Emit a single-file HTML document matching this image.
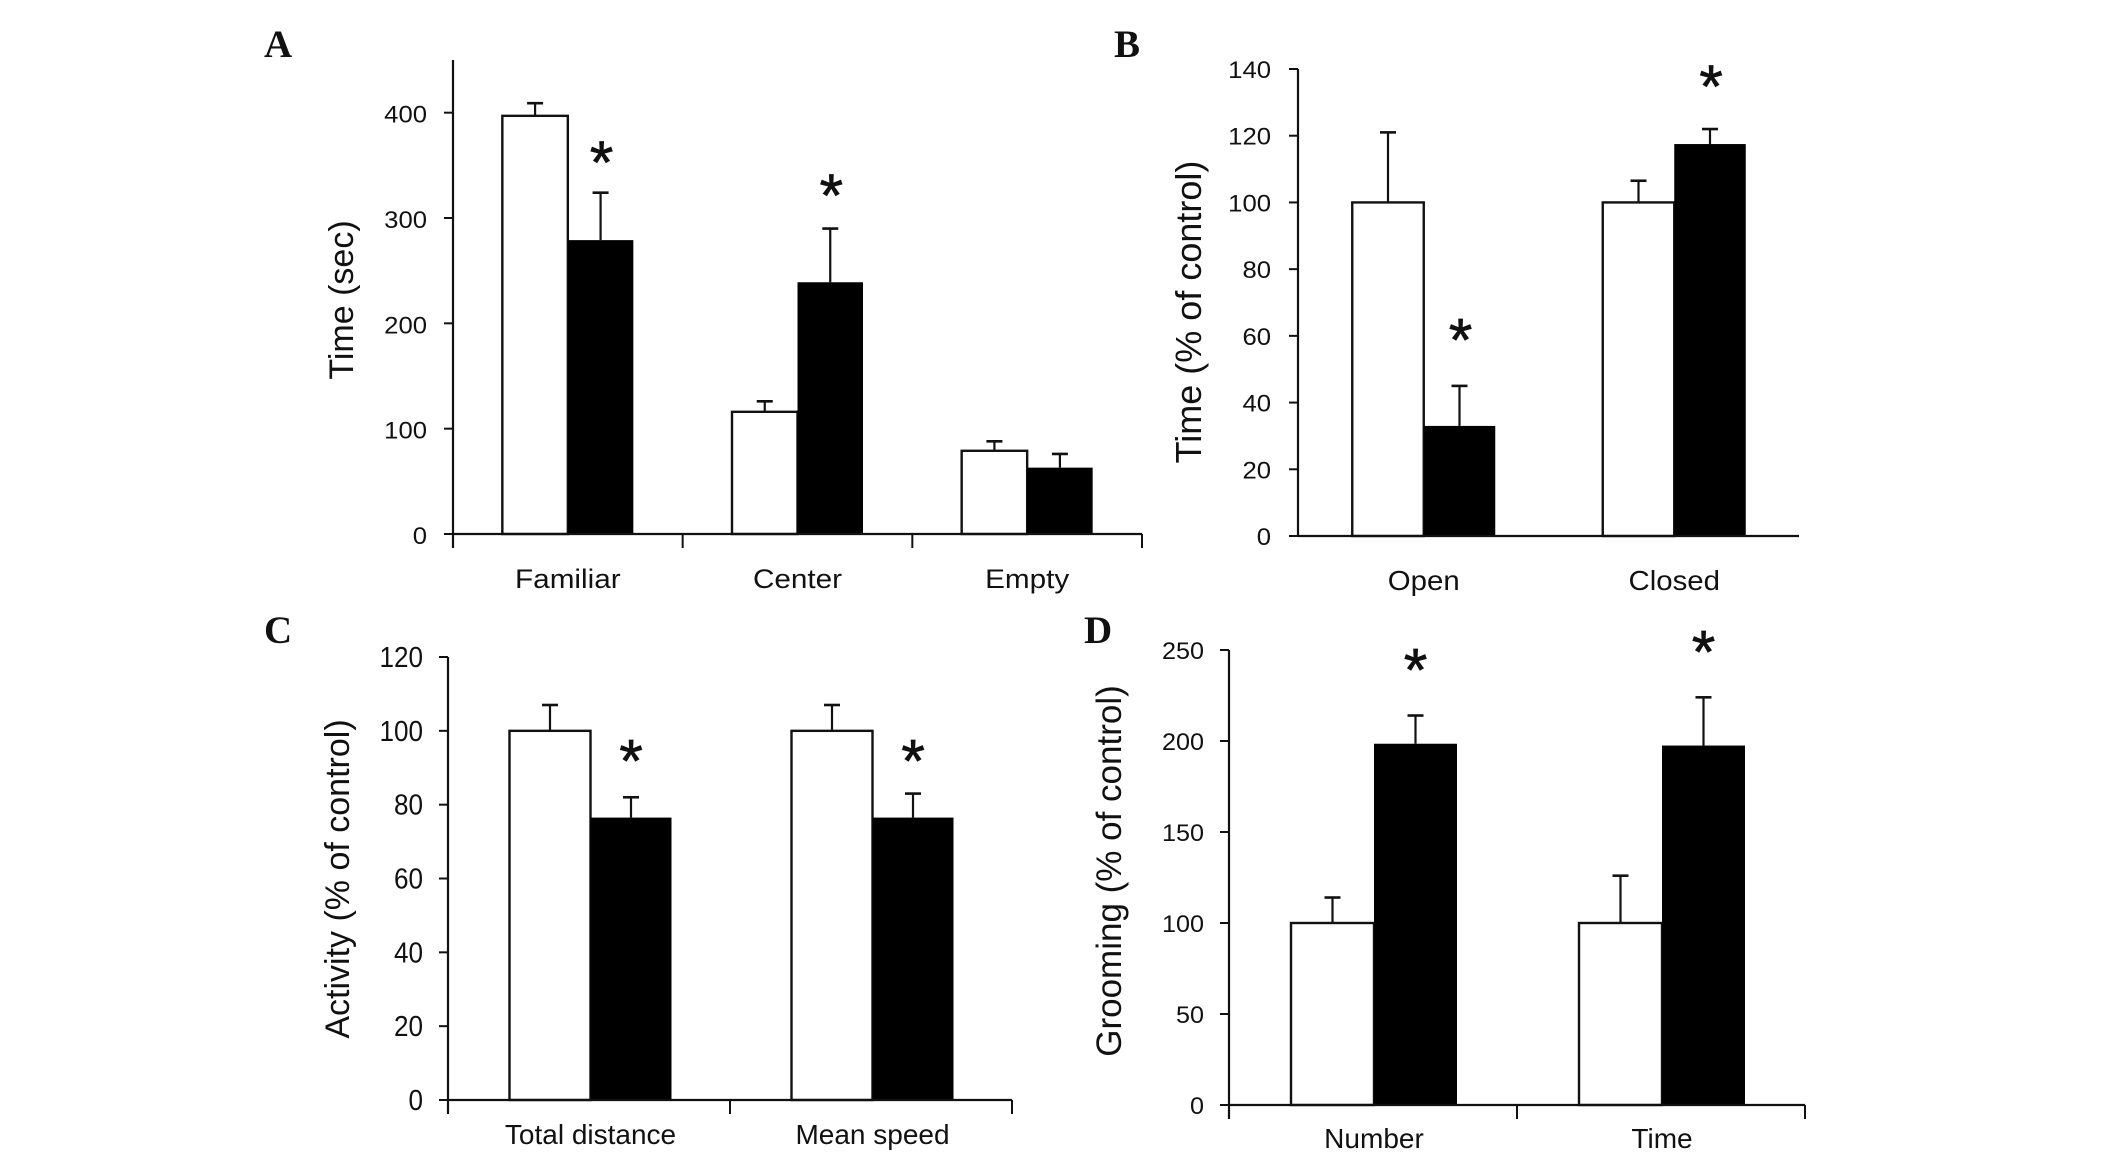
<!DOCTYPE html>
<html lang="en">
<head>
<meta charset="utf-8">
<title>Behavioural bar charts</title>
<style>
html,body{margin:0;padding:0;background:#fff;}
svg{display:block;}
</style>
</head>
<body>
<svg id="figure" xmlns="http://www.w3.org/2000/svg" width="2126" height="1160" viewBox="0 0 2126 1160"></svg>
<script>
/* Panel A data */
const aCategories = ["Familiar", "Center", "Empty"];
const aControl = [397, 116, 79];
const aTreated = [279, 239, 63];
const aControlErrTop = [409, 126, 88];
const aTreatedErrTop = [324, 290, 76];
const aStarLevels = [360, 328.5, null];
const aTicks = [0, 100, 200, 300, 400];

/* Panel B data */
const bCategories = ["Open", "Closed"];
const bControl = [100, 100];
const bTreated = [33, 117.5];
const bControlErrTop = [121, 106.5];
const bTreatedErrTop = [45, 122];
const bStarLevels = [61, 137];
const bTicks = [0, 20, 40, 60, 80, 100, 120, 140];

/* Panel C data */
const cCategories = ["Total distance", "Mean speed"];
const cControl = [100, 100];
const cTreated = [76.5, 76.5];
const cControlErrTop = [107, 107];
const cTreatedErrTop = [82, 83];
const cStarLevels = [93.8, 93.8];
const cTicks = [0, 20, 40, 60, 80, 100, 120];

/* Panel D data */
const dCategories = ["Number", "Time"];
const dControl = [100, 100];
const dTreated = [198.5, 197.5];
const dControlErrTop = [114, 126];
const dTreatedErrTop = [214, 224];
const dStarLevels = [243, 253];
const dTicks = [0, 50, 100, 150, 200, 250];

const NS = "http://www.w3.org/2000/svg";
const figure = document.getElementById("figure");
const INK = "#111";

function svgEl(parent, tag) {
  const el = document.createElementNS(NS, tag);
  parent.appendChild(el);
  return el;
}
function setLine(el, x1, y1, x2, y2, w) {
  el.setAttribute("x1", x1);
  el.setAttribute("y1", y1);
  el.setAttribute("x2", x2);
  el.setAttribute("y2", y2);
  el.setAttribute("stroke", INK);
  el.setAttribute("stroke-width", w);
}
function setText(el, str, size, family, anchor, transform) {
  el.textContent = str;
  el.setAttribute("font-size", size);
  el.setAttribute("font-family", family);
  el.setAttribute("text-anchor", anchor);
  el.setAttribute("fill", INK);
  el.setAttribute("transform", transform);
}

const SANS = '"Liberation Sans", sans-serif';
const SERIF = '"Liberation Serif", serif';

function drawPanel(p) {
  const g = svgEl(figure, "g");
  
  

  const y = v => p.y0 - (v / p.yMax) * (p.y0 - p.yTop);
  const band = (p.x1 - p.x0) / p.categories.length;
  const center = i => p.x0 + p.barShift + band * (i + 0.5);

  /* panel letter */
  const letter = svgEl(g, "text");
  setText(letter, p.id.toUpperCase(), 39, SERIF, "start", `translate(${p.letterX},${p.letterY})`);
  letter.setAttribute("font-weight", "bold");
  
  

  /* y title */
  const title = svgEl(g, "text");
  setText(title, p.title, p.titleSize, SANS, "middle", `translate(${p.titleX},${p.titleY}) rotate(-90)`);
  
  

  /* bars */
  p.categories.forEach((cat, i) => {
    const c = center(i);
    const errCapW = 16;

    const ctrlX = (c - p.barW / 2);
    const errA = svgEl(g, "line");
    setLine(errA, ctrlX, y(p.control[i]), ctrlX, y(p.controlErr[i]), 2.2);
    
    
    const capA = svgEl(g, "line");
    setLine(capA, ctrlX - errCapW / 2, y(p.controlErr[i]), ctrlX + errCapW / 2, y(p.controlErr[i]), 2.6);
    
    

    const trtX = (c + p.barW / 2);
    const errB = svgEl(g, "line");
    setLine(errB, trtX, y(p.treated[i]), trtX, y(p.treatedErr[i]), 2.2);
    
    
    const capB = svgEl(g, "line");
    setLine(capB, trtX - errCapW / 2, y(p.treatedErr[i]), trtX + errCapW / 2, y(p.treatedErr[i]), 2.6);
    
    

    const whiteBar = svgEl(g, "rect");
    whiteBar.setAttribute("x", c - p.barW);
    whiteBar.setAttribute("y", y(p.control[i]));
    whiteBar.setAttribute("width", p.barW);
    whiteBar.setAttribute("height", p.y0 - y(p.control[i]));
    whiteBar.setAttribute("fill", "#fff");
    whiteBar.setAttribute("stroke", INK);
    whiteBar.setAttribute("stroke-width", 2.4);
    
    

    const blackBar = svgEl(g, "rect");
    blackBar.setAttribute("x", c);
    blackBar.setAttribute("y", y(p.treated[i]));
    blackBar.setAttribute("width", p.barW);
    blackBar.setAttribute("height", p.y0 - y(p.treated[i]));
    blackBar.setAttribute("fill", "#000");
    
    

    /* significance star */
    if (p.stars[i] !== null) {
      const star = svgEl(g, "text");
      setText(star, "*", 60, SANS, "middle", `translate(${trtX + p.starDx},${y(p.stars[i]) + 28})`);
      star.setAttribute("stroke", INK);
      star.setAttribute("stroke-width", 0.8);
      
      
    }

    /* category label */
    const label = svgEl(g, "text");
    setText(label, cat, p.catSize, SANS, "middle", `translate(${c},${p.catY}) scale(${p.catSx},1)`);
    
    

    /* x tick marks */
    if (p.xTicks) {
      const tk = svgEl(g, "line");
      setLine(tk, p.x0 + band * (i + 1), p.y0, p.x0 + band * (i + 1), p.y0 + 14, 2);
      
      
    }
  });

  /* axes */
  const xAxis = svgEl(g, "line");
  setLine(xAxis, p.x0, p.y0, p.x1, p.y0, 2.2);
  
  

  const yAxis = svgEl(g, "line");
  setLine(yAxis, p.x0, p.yTop, p.x0, p.y0 + (p.xTicks ? 14 : 0), 2.2);
  
  

  /* y ticks */
  p.ticks.forEach(t => {
    const tk = svgEl(g, "line");
    setLine(tk, p.x0 - 9, y(t), p.x0, y(t), 2);
    
    

    const lab = svgEl(g, "text");
    setText(lab, String(t), p.tickSize, SANS, "end", `translate(${p.tickX},${y(t) + p.tickDy}) scale(${p.tickSx},1)`);
    
    
  });
}

drawPanel({
  id: "a", categories: aCategories, control: aControl, treated: aTreated,
  controlErr: aControlErrTop, treatedErr: aTreatedErrTop, stars: aStarLevels, ticks: aTicks,
  x0: 453, x1: 1142, yTop: 60, y0: 534, yMax: 450, barW: 65.5, xTicks: true, barShift: 0,
  title: "Time (sec)", titleSize: 34, titleX: 353, titleY: 300,
  letterX: 264, letterY: 57, tickSize: 24, tickSx: 1.07, tickX: 427, tickDy: 10,
  catSize: 27, catSx: 1.1, catY: 588, starDx: 1
});
drawPanel({
  id: "b", categories: bCategories, control: bControl, treated: bTreated,
  controlErr: bControlErrTop, treatedErr: bTreatedErrTop, stars: bStarLevels, ticks: bTicks,
  x0: 1298, x1: 1799, yTop: 69, y0: 536, yMax: 140, barW: 71.5, xTicks: false, barShift: 0.5,
  title: "Time (% of control)", titleSize: 36, titleX: 1201, titleY: 312,
  letterX: 1114, letterY: 57, tickSize: 24, tickSx: 1.07, tickX: 1271, tickDy: 9,
  catSize: 28, catSx: 1.05, catY: 590, starDx: 1
});
drawPanel({
  id: "c", categories: cCategories, control: cControl, treated: cTreated,
  controlErr: cControlErrTop, treatedErr: cTreatedErrTop, stars: cStarLevels, ticks: cTicks,
  x0: 448, x1: 1012, yTop: 657, y0: 1100, yMax: 120, barW: 81, xTicks: true, barShift: 1.5,
  title: "Activity (% of control)", titleSize: 34, titleX: 349, titleY: 879,
  letterX: 264, letterY: 643, tickSize: 29, tickSx: 0.9, tickX: 423, tickDy: 10,
  catSize: 28, catSx: 1, catY: 1144, starDx: 0
});
drawPanel({
  id: "d", categories: dCategories, control: dControl, treated: dTreated,
  controlErr: dControlErrTop, treatedErr: dTreatedErrTop, stars: dStarLevels, ticks: dTicks,
  x0: 1229, x1: 1805, yTop: 650, y0: 1105, yMax: 250, barW: 83, xTicks: true, barShift: 1,
  title: "Grooming (% of control)", titleSize: 35, titleX: 1121, titleY: 871,
  letterX: 1084, letterY: 643, tickSize: 24, tickSx: 1.05, tickX: 1204, tickDy: 9,
  catSize: 27.5, catSx: 1.02, catY: 1148, starDx: 0
});
</script>
</body>
</html>
